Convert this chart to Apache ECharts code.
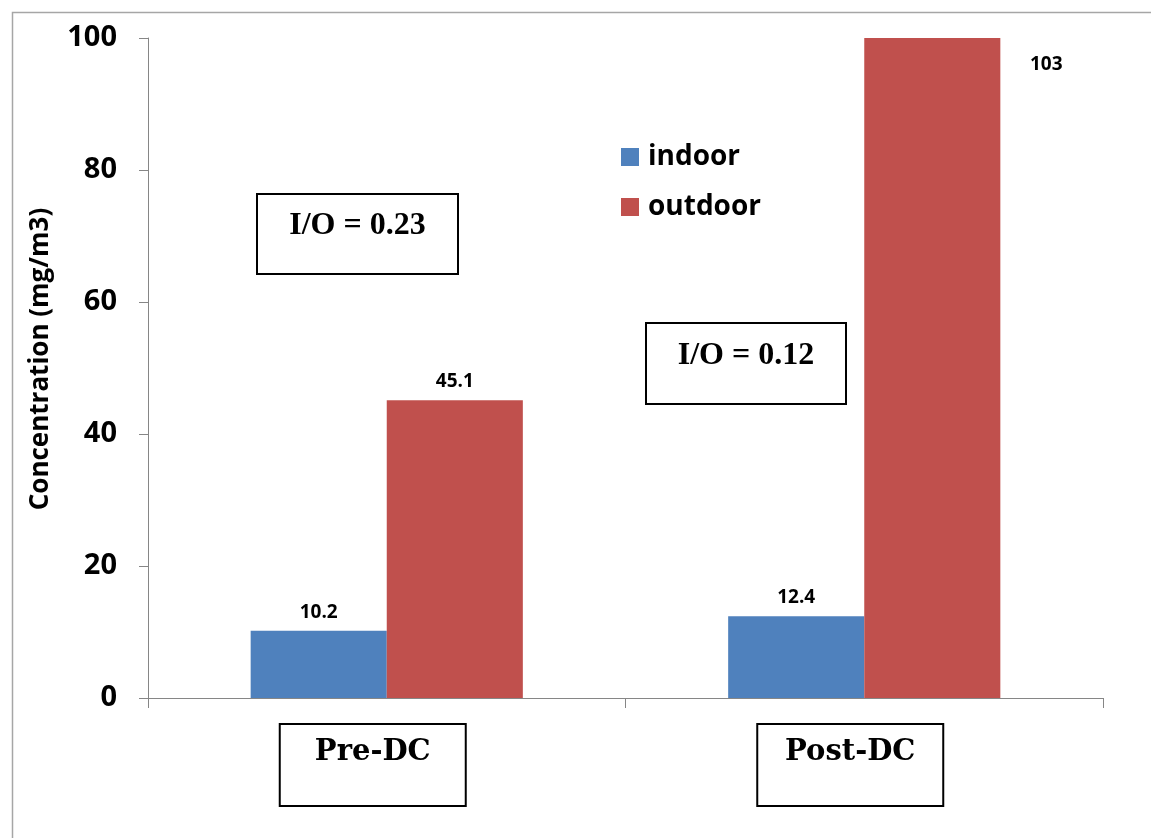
<!DOCTYPE html>
<html>
<head>
<meta charset="utf-8">
<script src="https://cdn.jsdelivr.net/npm/echarts@6/dist/echarts.min.js"></script>
<style>
html,body{margin:0;padding:0;background:#fff;}
#chart{width:1151px;height:838px;}
</style>
</head>
<body>
<div id="chart"></div>
<script>
// ---- data ----
const categories = ['Pre-DC', 'Post-DC'];
const seriesNames = ['indoor', 'outdoor'];
const indoorValues = [10.2, 12.4];
const outdoorValues = [45.1, 103];
const yTicks = [0, 20, 40, 60, 80, 100];
const ratioNotes = ['I/O = 0.23', 'I/O = 0.12'];
const yAxisTitle = 'Concentration (mg/m3)';

const chart = echarts.init(document.getElementById('chart'));
const yMax = yTicks[yTicks.length - 1];

const dataLabel = {
  show: true, position: 'top', distance: 9,
  fontFamily: 'Open Sans', fontWeight: 'bold', fontSize: 19, color: '#000'
};

const outdoorData = outdoorValues.map(v => {
  if (v > yMax) {
    return { value: v, label: { show: true, position: [182, 27], align: 'center', verticalAlign: 'middle' } };
  }
  return v;
});

function noteBox(text, left, top, w, h, textY) {
  return {
    type: 'group', left: left, top: top,
    children: [
      { type: 'rect', shape: { x: 0, y: 0, width: w, height: h },
        style: { fill: '#fff', stroke: '#000', lineWidth: 2 } },
      { type: 'text', x: w / 2, y: textY,
        style: { text: text, fill: '#000', font: 'bold 32px "Liberation Serif"', align: 'center', verticalAlign: 'middle' } }
    ]
  };
}

chart.setOption({
  backgroundColor: '#fff',
  animation: false,
  grid: { left: 148, right: 48, top: 38, bottom: 140, containLabel: false },
  legend: {
    data: seriesNames, orient: 'vertical', left: 621, top: 142, padding: 0,
    icon: 'rect', itemWidth: 18, itemHeight: 18, itemGap: 20,
    textStyle: { fontFamily: 'Open Sans', fontWeight: 'bold', fontSize: 28, lineHeight: 30, color: '#000', padding: [0, 0, 0, 4] }
  },
  xAxis: {
    type: 'category', data: categories,
    axisLine: { lineStyle: { color: '#868686', width: 1 } },
    axisTick: { show: true, length: 10, alignWithLabel: false, lineStyle: { color: '#868686' } },
    axisLabel: {
      margin: 50, interval: 0,
      formatter: v => '{box|' + v + '}{sp|}',
      rich: {
        box: { fontFamily: 'DejaVu Serif', fontWeight: 'bold', fontSize: 29, color: '#000',
               width: 186, align: 'center', lineHeight: 34, padding: [14, 0, 39, 0],
               borderColor: '#000', borderWidth: 2 },
        sp: { width: 28 }
      }
    }
  },
  yAxis: {
    type: 'value', min: 0, max: yMax, interval: 20,
    name: yAxisTitle, nameLocation: 'middle', nameGap: 94, nameRotate: 90,
    nameTextStyle: { fontFamily: 'Open Sans', fontWeight: 'bold', fontSize: 26, color: '#000', padding: [0, 0, 0, 18] },
    axisLine: { show: true, lineStyle: { color: '#868686', width: 1 } },
    axisTick: { show: true, length: 9, lineStyle: { color: '#868686' } },
    splitLine: { show: false },
    axisLabel: { margin: 31, fontFamily: 'Open Sans', fontWeight: 'bold', fontSize: 29, color: '#000' }
  },
  series: [
    { name: seriesNames[0], type: 'bar', data: indoorValues, barGap: '0%', barCategoryGap: '43%',
      itemStyle: { color: '#4f81bd' }, label: dataLabel },
    { name: seriesNames[1], type: 'bar', data: outdoorData, barGap: '0%', barCategoryGap: '43%', clip: true,
      itemStyle: { color: '#c0504d' }, label: dataLabel }
  ],
  graphic: [
    { type: 'rect', left: 10, top: 10, shape: { width: 1200, height: 900 },
      style: { fill: 'none', stroke: '#a6a6a6', lineWidth: 1.5 }, z: -10, silent: true },
    noteBox(ratioNotes[0], 256, 193, 201, 80, 32),
    noteBox(ratioNotes[1], 645, 322, 200, 81, 33)
  ]
});
</script>
</body>
</html>
